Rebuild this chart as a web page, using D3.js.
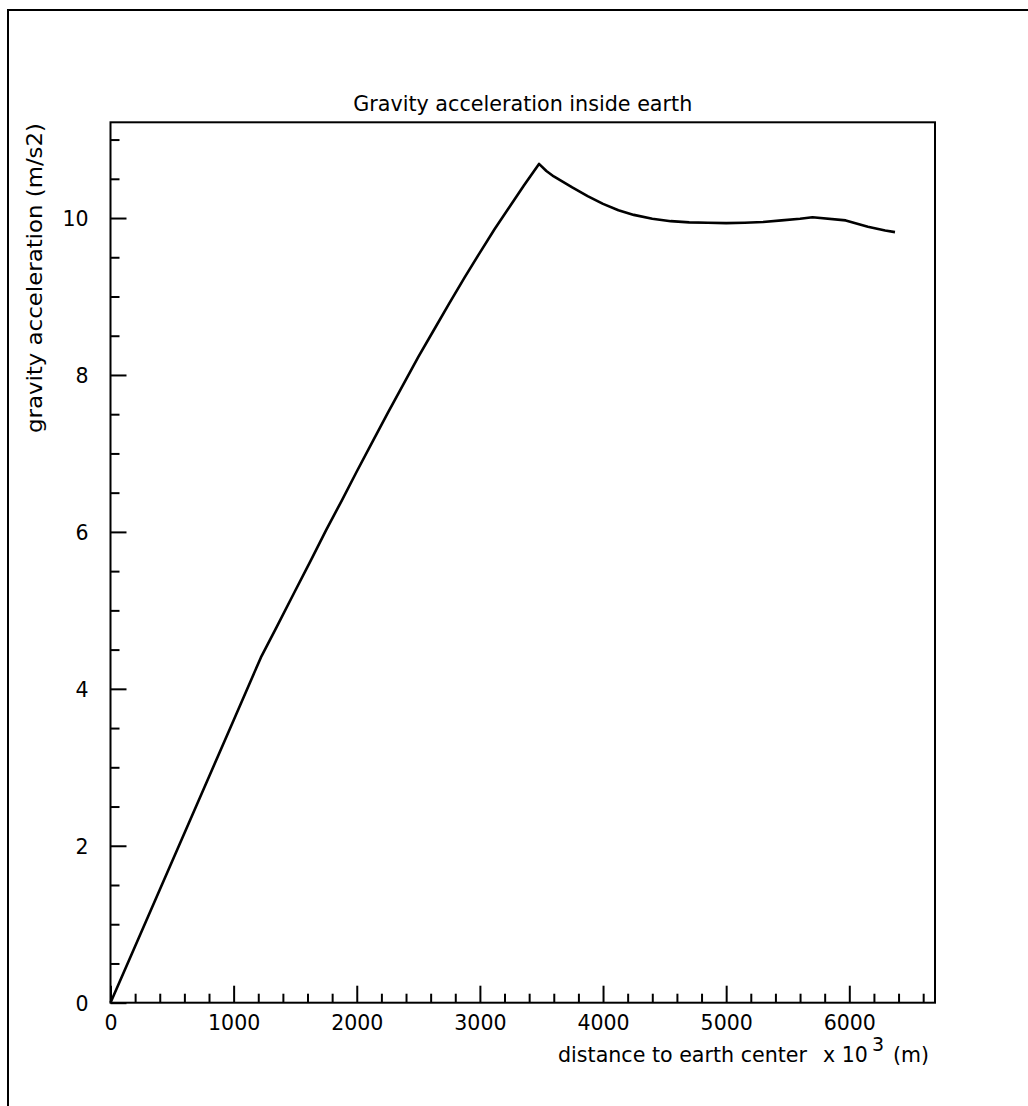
<!DOCTYPE html>
<html>
<head>
<meta charset="utf-8">
<script src="https://cdn.jsdelivr.net/npm/d3@7"></script>
<style>
  html, body { margin: 0; padding: 0; background: #fff; }
  svg { display: block; }
  text { font-family: "DejaVu Sans", sans-serif; fill: #000; }
</style>
</head>
<body>
<script>
// ---- data (radius in km, gravity in m/s2) ----
const radius = [0, 200, 400, 600, 800, 1000, 1221.5, 1350, 1500, 1625, 1750, 1875, 2000, 2125, 2250, 2375,
                2500, 2625, 2750, 2875, 3000, 3120, 3240, 3360, 3480,
                3540, 3600, 3675, 3750, 3875, 4000, 4125, 4250, 4400, 4550, 4700, 4850, 5000, 5150, 5300,
                5450, 5600, 5701, 5971, 6151, 6291, 6371];
const gravity = [0, 0.72, 1.44, 2.16, 2.88, 3.60, 4.40, 4.79, 5.25, 5.63, 6.02, 6.39, 6.77, 7.14, 7.51, 7.87,
                 8.23, 8.57, 8.91, 9.24, 9.56, 9.86, 10.14, 10.42, 10.69,
                 10.60, 10.53, 10.46, 10.39, 10.28, 10.18, 10.10, 10.04, 9.99, 9.96, 9.945, 9.94, 9.935, 9.94, 9.95,
                 9.97, 9.99, 10.01, 9.97, 9.89, 9.84, 9.82];
const xMajorTicks = [0, 1000, 2000, 3000, 4000, 5000, 6000];
const yMajorTicks = [0, 2, 4, 6, 8, 10];
const xDomain = [0, 6696];
const yDomain = [0, 11.22];
const title = "Gravity acceleration inside earth";
const yTitle = "gravity acceleration (m/s2)";
const xTitle = "distance to earth center";

const W = 1028, H = 1106;
const L = 110.5, R = 935, T = 122.3, B = 1002.7;

const svg = d3.select("body").append("svg").attr("width", W).attr("height", H);

// outer frame (extends beyond the window on right/bottom)
svg.append("rect").attr("x", 8).attr("y", 10).attr("width", 1100).attr("height", 1200)
  .attr("fill", "none").attr("stroke", "#000").attr("stroke-width", 2);

const x = d3.scaleLinear().domain(xDomain).range([L, R]);
const y = d3.scaleLinear().domain(yDomain).range([B, T]);

// plot frame
svg.append("rect").attr("x", L).attr("y", T).attr("width", R - L).attr("height", B - T)
  .attr("fill", "none").attr("stroke", "#000").attr("stroke-width", 2);

// x axis: ticks inside, labels below
const xMinor = d3.range(0, xDomain[1], 200).filter(v => !xMajorTicks.includes(v));
svg.append("g").attr("transform", `translate(0,${B})`)
  .call(d3.axisTop(x).tickValues(xMinor).tickSize(9).tickFormat(""))
  .call(g => g.select(".domain").remove())
  .call(g => g.selectAll("line").attr("stroke-width", 2));
const gx = svg.append("g").attr("transform", `translate(0,${B})`)
  .call(d3.axisTop(x).tickValues(xMajorTicks).tickSize(17).tickFormat(d3.format("d")))
  .call(g => g.select(".domain").remove())
  .call(g => g.selectAll("line").attr("stroke-width", 2));
gx.selectAll("text").attr("y", 27).attr("dy", 0).attr("font-size", 20.5)
  .attr("font-family", "DejaVu Sans").attr("fill", "#000");

// y axis: ticks inside, labels left
const yMinor = d3.range(0.5, yDomain[1], 0.5).filter(v => !yMajorTicks.includes(v));
svg.append("g").attr("transform", `translate(${L},0)`)
  .call(d3.axisRight(y).tickValues(yMinor).tickSize(9).tickFormat(""))
  .call(g => g.select(".domain").remove())
  .call(g => g.selectAll("line").attr("stroke-width", 2));
const gy = svg.append("g").attr("transform", `translate(${L},0)`)
  .call(d3.axisRight(y).tickValues(yMajorTicks).tickSize(16).tickFormat(d3.format("d")))
  .call(g => g.select(".domain").remove())
  .call(g => g.selectAll("line").attr("stroke-width", 2));
gy.selectAll("text").attr("x", -22).attr("dy", "0.36em").attr("text-anchor", "end")
  .attr("font-size", 20.5).attr("font-family", "DejaVu Sans").attr("fill", "#000");

// curve
const line = d3.line().x((d, i) => x(radius[i])).y(d => y(d));
svg.append("path").datum(gravity).attr("d", line)
  .attr("fill", "none").attr("stroke", "#000").attr("stroke-width", 2.6)
  .attr("stroke-linejoin", "round");

// title
svg.append("text").attr("x", (L + R) / 2).attr("y", 110.5).attr("text-anchor", "middle")
  .attr("font-size", 20.5).attr("textLength", 339).attr("lengthAdjust", "spacingAndGlyphs").text(title);

// y title
svg.append("text").attr("transform", "translate(42,123) rotate(-90)").attr("text-anchor", "end")
  .attr("font-size", 20.5).attr("textLength", 310).attr("lengthAdjust", "spacingAndGlyphs").text(yTitle);

// x title
const xt = svg.append("text").attr("y", 1062).attr("font-size", 20.5);
xt.append("tspan").attr("x", 558).attr("textLength", 249).attr("lengthAdjust", "spacingAndGlyphs").text(xTitle);
xt.append("tspan").attr("x", 823).text("x 10");
xt.append("tspan").attr("x", 872).attr("y", 1051).attr("font-size", 19).text("3");
xt.append("tspan").attr("x", 893).attr("y", 1062).text("(m)");
</script>
</body>
</html>
